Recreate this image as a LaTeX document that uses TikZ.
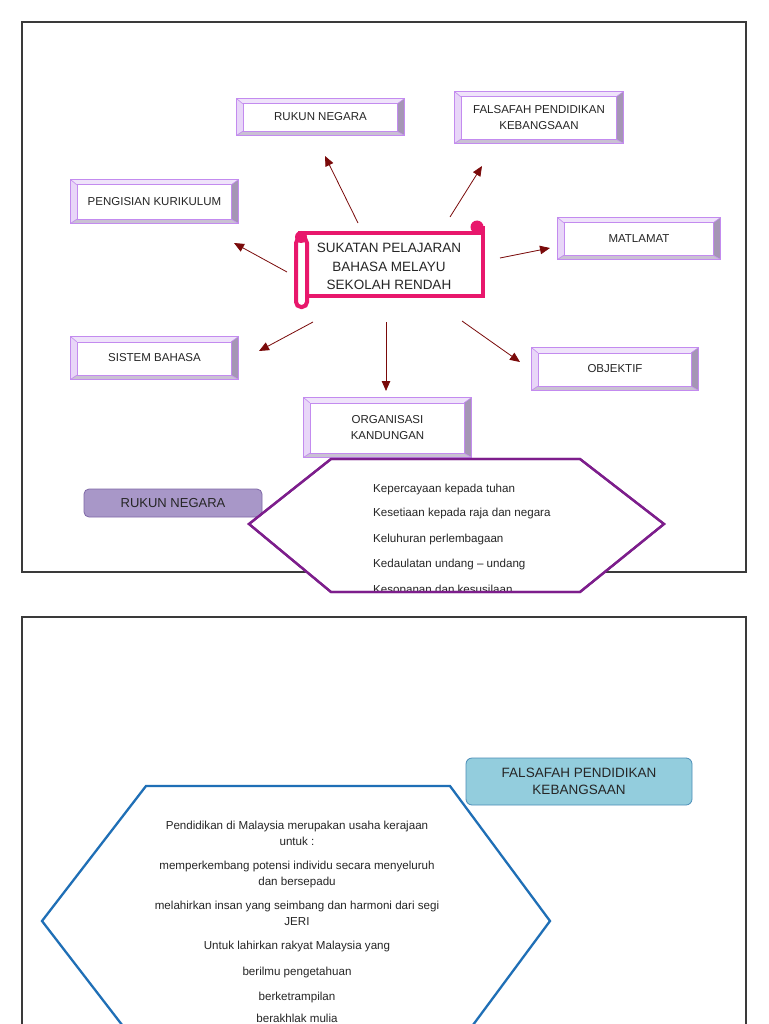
\documentclass[tikz,border=0pt]{standalone}
\usepackage{fontspec}
\setmainfont{Liberation Sans}
\usetikzlibrary{arrows.meta}
\definecolor{pinkc}{HTML}{E8176C}
\definecolor{arrowc}{HTML}{7A0A0A}
\definecolor{bevout}{HTML}{C38BEF}
\definecolor{bevlight}{HTML}{EFE3FA}
\definecolor{bevright}{HTML}{A596B5}
\definecolor{bevbottom}{HTML}{C9C1D3}
\definecolor{hexpurple}{HTML}{7D1E8C}
\definecolor{hexblue}{HTML}{1F6FB6}
\definecolor{rnfill}{HTML}{A897C8}
\definecolor{rnborder}{HTML}{7E68A6}
\definecolor{fpfill}{HTML}{93CDDD}
\definecolor{fpborder}{HTML}{4A8DB8}
\definecolor{framec}{HTML}{3A3A3A}
\definecolor{txt}{HTML}{262626}
\newcommand\bevelize[1]{%
  \fill[bevlight] (#1.north west) -- (#1.north east) -- ([shift={(-7,5)}]#1.north east) -- ([shift={(6,5)}]#1.north west) -- cycle;
  \fill[bevlight!85!bevout] (#1.north west) -- ([shift={(6,5)}]#1.north west) -- ([shift={(6,-4)}]#1.south west) -- (#1.south west) -- cycle;
  \fill[bevright] (#1.north east) -- (#1.south east) -- ([shift={(-7,-4)}]#1.south east) -- ([shift={(-7,5)}]#1.north east) -- cycle;
  \fill[bevbottom] (#1.south west) -- (#1.south east) -- ([shift={(-7,-4)}]#1.south east) -- ([shift={(6,-4)}]#1.south west) -- cycle;
  \draw[bevout, line width=0.6] ([shift={(6,5)}]#1.north west) rectangle ([shift={(-7,-4)}]#1.south east);
  \draw[bevout, line width=0.6] (#1.north west) -- ([shift={(6,5)}]#1.north west)
        (#1.north east) -- ([shift={(-7,5)}]#1.north east)
        (#1.south west) -- ([shift={(6,-4)}]#1.south west)
        (#1.south east) -- ([shift={(-7,-4)}]#1.south east);
  \draw[bevout, line width=1.3] (#1.north west) rectangle (#1.south east);
}
\begin{document}
\begin{tikzpicture}[x=1pt, y=-1pt,
  bevbox/.style={inner sep=0, align=center, text=txt, font=\fontsize{11.5}{15.5}\selectfont},
  arr/.style={arrowc, line width=0.8, -{Triangle[length=10pt, width=8.5pt]}},
  frame/.style={framec, line width=1.2},
  hexline/.style={inner sep=0, text=txt, font=\fontsize{11.6}{13}\selectfont},
]
\clip (0,0) rectangle (768,1024);
\fill[white] (0,0) rectangle (768,1024);

% ---------- frame 1 ----------
\draw[frame] (22,22) rectangle (746,572);

% bevel boxes
\node[bevbox, minimum width=167, minimum height=36] (rukun) at (320.5,117) {RUKUN NEGARA};
\bevelize{rukun}
\node[bevbox, minimum width=168, minimum height=51] (falsafah) at (539,117.5) {FALSAFAH PENDIDIKAN\\KEBANGSAAN};
\bevelize{falsafah}
\node[bevbox, minimum width=167, minimum height=43] (pengisian) at (154.5,201.5) {PENGISIAN KURIKULUM};
\bevelize{pengisian}
\node[bevbox, minimum width=162, minimum height=41] (matlamat) at (639,238.5) {MATLAMAT};
\bevelize{matlamat}
\node[bevbox, minimum width=167, minimum height=42] (sistem) at (154.5,358) {SISTEM BAHASA};
\bevelize{sistem}
\node[bevbox, minimum width=166, minimum height=42] (objektif) at (615,369) {OBJEKTIF};
\bevelize{objektif}
\node[bevbox, minimum width=167, minimum height=59] (organisasi) at (387.5,427.5) {ORGANISASI\\KANDUNGAN};
\bevelize{organisasi}

% scroll (centre)
\draw[pinkc, line width=4.5, fill=white] (300,233) rectangle (483,296);
\draw[pinkc, line width=4.5] (483,235) -- (483,226);
\fill[pinkc] (477,227) circle (6.5);
\draw[pinkc, line width=4, fill=white, rounded corners=5] (296,238) rectangle (307,307);
\fill[pinkc] (301,237) circle (6);
\node[text=txt, align=center, font=\fontsize{13.5}{18.5}\selectfont] (sukatan) at (389,266.5) {SUKATAN PELAJARAN\\BAHASA MELAYU\\SEKOLAH RENDAH};

% arrows
\coordinate (tR) at (358,223); \coordinate (hR) at (325,156);
\coordinate (tF) at (450,217); \coordinate (hF) at (482,166);
\coordinate (tP) at (287,272); \coordinate (hP) at (234,243);
\coordinate (tM) at (500,258); \coordinate (hM) at (550,248);
\coordinate (tS) at (313,322); \coordinate (hS) at (259,351);
\coordinate (tO) at (386,322); \coordinate (hO) at (386,391);
\coordinate (tJ) at (462,321); \coordinate (hJ) at (520,362);
\draw[arr] (tR) -- (hR);
\draw[arr] (tF) -- (hF);
\draw[arr] (tP) -- (hP);
\draw[arr] (tM) -- (hM);
\draw[arr] (tS) -- (hS);
\draw[arr] (tO) -- (hO);
\draw[arr] (tJ) -- (hJ);

% RUKUN NEGARA label box
\node[draw=rnborder, fill=rnfill, line width=0.8, rounded corners=5, minimum width=178, minimum height=28, inner sep=0, text=txt, font=\fontsize{13}{15}\selectfont] (rnlabel) at (173,503) {RUKUN NEGARA};

% hexagon 1
\filldraw[hexpurple, fill=white, line width=2.3] (331,459) -- (580,459) -- (664,524) -- (580,592) -- (331,592) -- (249,524) -- cycle;
\begin{scope}
\clip (0,0) rectangle (768,591.5);
\node[hexline, anchor=base west] (r1) at (373,492) {Kepercayaan kepada tuhan};
\node[hexline, anchor=base west] (r2) at (373,516) {Kesetiaan kepada raja dan negara};
\node[hexline, anchor=base west] (r3) at (373,542) {Keluhuran perlembagaan};
\node[hexline, anchor=base west] (r4) at (373,567) {Kedaulatan undang – undang};
\node[hexline, anchor=base west] (r5) at (373,593) {Kesopanan dan kesusilaan};
\end{scope}
\draw[hexpurple, line width=2.3] (331,459) -- (580,459) -- (664,524) -- (580,592) -- (331,592) -- (249,524) -- cycle;

% ---------- frame 2 ----------
\draw[frame] (22,617) rectangle (746,1040);
\node[draw=fpborder, fill=fpfill, line width=0.8, rounded corners=6, minimum width=226, minimum height=47, inner sep=0, align=center, text=txt, font=\fontsize{13.5}{17.5}\selectfont] (fplabel) at (579,781.5) {FALSAFAH PENDIDIKAN\\KEBANGSAAN};

\filldraw[hexblue, fill=white, line width=2.3] (146,786) -- (450,786) -- (550,921) -- (450,1056) -- (146,1056) -- (42,921) -- cycle;
\node[hexline, anchor=base] (p1) at (297,829) {Pendidikan di Malaysia merupakan usaha kerajaan};
\node[hexline, anchor=base] (p2) at (297,845) {untuk :};
\node[hexline, anchor=base] (p3) at (297,869) {memperkembang potensi individu secara menyeluruh};
\node[hexline, anchor=base] (p4) at (297,885) {dan bersepadu};
\node[hexline, anchor=base] (p5) at (297,909) {melahirkan insan yang seimbang dan harmoni dari segi};
\node[hexline, anchor=base] (p6) at (297,925) {JERI};
\node[hexline, anchor=base] (p7) at (297,949) {Untuk lahirkan rakyat Malaysia yang};
\node[hexline, anchor=base] (p8) at (297,975) {berilmu pengetahuan};
\node[hexline, anchor=base] (p9) at (297,1000) {berketrampilan};
\node[hexline, anchor=base] (p10) at (297,1022.5) {berakhlak mulia};
\end{tikzpicture}
\end{document}
